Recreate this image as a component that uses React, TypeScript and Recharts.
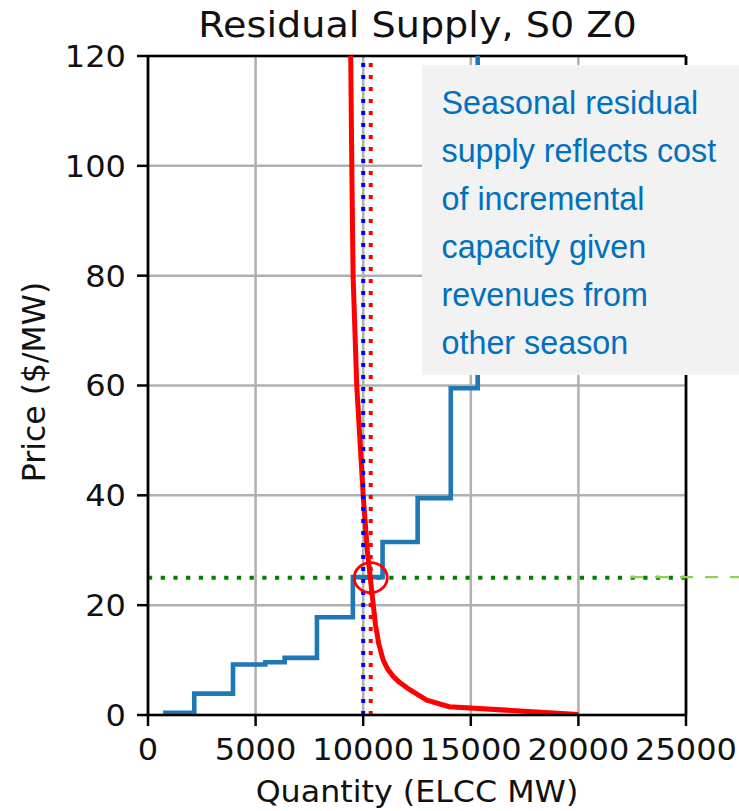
import React from 'react'
import {
  ComposedChart, Line, XAxis, YAxis, CartesianGrid, ReferenceLine, ReferenceDot,
} from 'recharts'

// residual supply steps (quantity MW, price $/MW)
const supplyQ = [700, 2150, 3950, 5450, 6350, 7850, 9520, 10900, 12530, 14070, 15320]
const supplyP = [0.4, 3.9, 9.2, 9.6, 10.4, 17.8, 25.1, 31.5, 39.5, 59.5, 130]

// demand curve
const demandQ = [9420, 9470, 9530, 9700, 10000, 10190, 10330, 10470, 10570, 10720, 10930, 11130, 11400, 11700, 12050, 12950, 14000, 20000]
const demandP = [120, 100, 80, 60, 40, 30, 25, 20, 16.5, 13, 10, 8.4, 7, 5.9, 4.9, 2.7, 1.5, 0.1]

const xTicks = [0, 5000, 10000, 15000, 20000, 25000]
const yTicks = [0, 20, 40, 60, 80, 100, 120]

const supplyQty = 10000
const demandQty = 10350
const clearingPrice = 25

const noteLines = [
  'Seasonal residual',
  'supply reflects cost',
  'of incremental',
  'capacity given',
  'revenues from',
  'other season',
]

const supply = supplyQ.map((q, i) => ({ q, p: supplyP[i] }))
const demand = demandQ.map((q, i) => ({ q, p: demandP[i] }))

const W = 739
const H = 811
const PLOT = { left: 148, right: 686, top: 56, bottom: 715 }
const FONT = '"DejaVu Sans", sans-serif'

function XTick({ x, y, payload }: any) {
  return (
    <text transform={`translate(${x},${y}) scale(1.05,1)`} textAnchor="middle" dy="0.71em"
      fontFamily={FONT} fontSize={30.5} fill="#111">
      {payload.value}
    </text>
  )
}

function YTick({ x, y, payload }: any) {
  return (
    <text transform={`translate(${x},${y}) scale(1.05,1)`} textAnchor="end" dy="0.355em"
      fontFamily={FONT} fontSize={30.5} fill="#111">
      {payload.value}
    </text>
  )
}

function Ring({ cx, cy }: any) {
  return <ellipse cx={cx} cy={cy} rx={16.5} ry={15} fill="none" stroke="#ff0000" strokeWidth={2.8} />
}

export default function App() {
  const yPx = PLOT.bottom - (clearingPrice / 120) * (PLOT.bottom - PLOT.top)
  return (
    <div style={{ position: 'absolute', left: 0, top: 0, width: W, height: H, background: '#fff' }}>
      <ComposedChart
        width={W}
        height={H}
        margin={{ top: PLOT.top, right: W - PLOT.right, bottom: H - PLOT.bottom - 60, left: PLOT.left - 100 }}
      >
        <CartesianGrid stroke="#b0b0b0" strokeWidth={2.5} />
        <XAxis
          type="number" dataKey="q" domain={[0, 25000]} ticks={xTicks} allowDataOverflow
          height={60} tickSize={11} tickMargin={12} tick={<XTick />}
          axisLine={{ stroke: '#000', strokeWidth: 2.7 }} tickLine={{ stroke: '#000', strokeWidth: 2.5 }}
        />
        <YAxis
          type="number" dataKey="p" domain={[0, 120]} ticks={yTicks} allowDataOverflow
          width={100} tickSize={11} tickMargin={11} tick={<YTick />}
          axisLine={{ stroke: '#000', strokeWidth: 2.7 }} tickLine={{ stroke: '#000', strokeWidth: 2.5 }}
        />
        <ReferenceLine y={120} stroke="#000" strokeWidth={2.7} />
        <ReferenceLine x={25000} stroke="#000" strokeWidth={2.7} />
        <ReferenceLine y={clearingPrice} stroke="#008000" strokeWidth={4} strokeDasharray="4.2 8.5" />
        <Line data={supply} dataKey="p" type="stepAfter" stroke="#1f77b4" strokeWidth={4.6}
          dot={false} isAnimationActive={false} />
        <Line data={demand} dataKey="p" type="linear" stroke="#ff0000" strokeWidth={5}
          strokeLinejoin="round" dot={false} isAnimationActive={false} />
        <ReferenceLine x={supplyQty} stroke="#0000ff" strokeWidth={4} strokeDasharray="4 8" />
        <ReferenceLine x={demandQty} stroke="#ff0000" strokeWidth={4} strokeDasharray="4 8" />
        <ReferenceDot x={demandQty} y={clearingPrice} shape={<Ring />} />
      </ComposedChart>

      <svg width={W} height={H} style={{ position: 'absolute', left: 0, top: 0, pointerEvents: 'none' }}>
        <text transform="translate(417.5,37) scale(1.09,1)" textAnchor="middle"
          fontFamily={FONT} fontSize={35} fill="#111">
          Residual Supply, S0 Z0
        </text>
        <text transform="translate(417,801.5) scale(1.04,1)" textAnchor="middle"
          fontFamily={FONT} fontSize={30.5} fill="#111">
          Quantity (ELCC MW)
        </text>
        <text transform="translate(45,382) rotate(-90)" textAnchor="middle"
          fontFamily={FONT} fontSize={31.5} fill="#111">
          Price ($/MW)
        </text>
        <line x1={630} x2={W} y1={yPx - 0.5} y2={yPx - 0.5} stroke="#92d050" strokeWidth={2.2}
          strokeDasharray="13 12" />
        <rect x={422} y={65} width={W - 422} height={310} fill="#f2f2f2" />
        {noteLines.map((t, i) => (
          <text key={t} transform={`translate(441.5,${113.5 + i * 48}) scale(0.95,1)`}
            fontFamily='"Liberation Sans", Arial, sans-serif' fontSize={34} fill="#0070c0">
            {t}
          </text>
        ))}
      </svg>
    </div>
  )
}
